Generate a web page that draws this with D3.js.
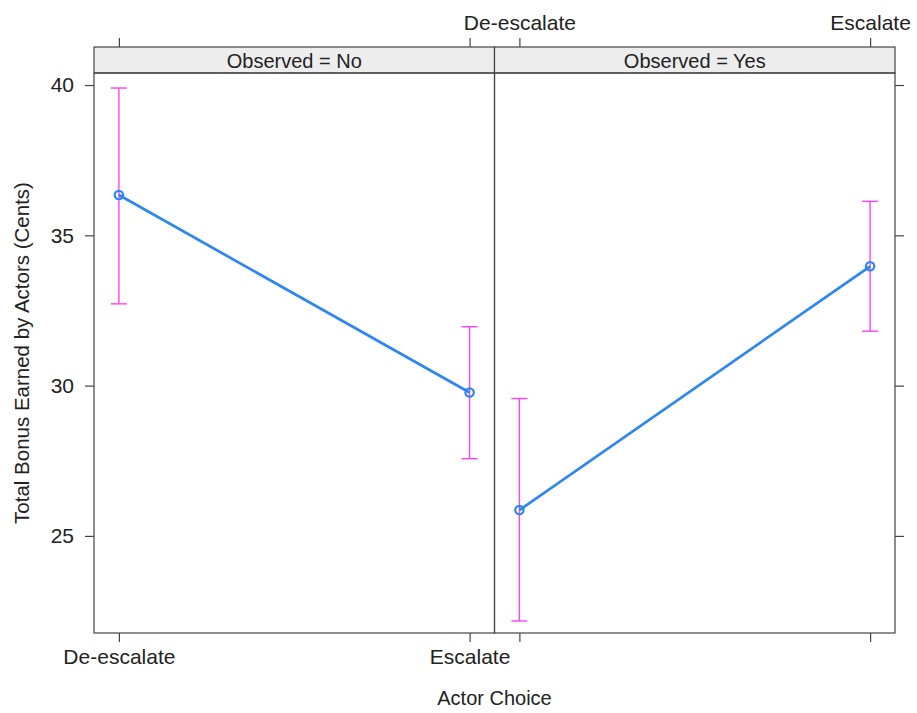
<!DOCTYPE html>
<html lang="en">
<head>
<meta charset="UTF-8">
<title>Bonus by actor choice</title>
<script src="https://d3js.org/d3.v7.min.js"></script>
<style>
  body { margin: 0; background: #fff; }
  svg text { font-family: "Liberation Sans", Arial, sans-serif; fill: #222; }
</style>
</head>
<body>
<svg width="917" height="713"></svg>
<script>
// data
const choices = ["De-escalate", "Escalate"];
const panels = ["Observed = No", "Observed = Yes"];
const meanNo = [36.34, 29.77];
const lowerNo = [32.72, 27.57];
const upperNo = [39.9, 31.96];
const meanYes = [25.86, 33.97];
const lowerYes = [22.17, 31.81];
const upperYes = [29.57, 36.13];
const yTicks = [25, 30, 35, 40];

(function () {
  const series = [
    { name: panels[0], mean: meanNo, lo: lowerNo, hi: upperNo },
    { name: panels[1], mean: meanYes, lo: lowerYes, hi: upperYes }
  ];

  const svg = d3.select("svg");
  const plotLeft = 94, panelW = 400.5, plotTop = 73, plotBottom = 633, stripH = 26;
  const blue = "#2d87f0", magenta = "#ff40ff", axisCol = "#444";
  const fs = 21;

  const y = d3.scaleLinear().domain([21.77, 40.4]).range([plotBottom, plotTop]);

  series.forEach((s, p) => {
    const x0 = plotLeft + p * panelW;
    const x = d3.scalePoint().domain(choices).range([x0, x0 + panelW]).padding(0.071);
    const g = svg.append("g");

    // strip
    g.append("rect")
      .attr("x", x0).attr("y", plotTop - stripH)
      .attr("width", panelW).attr("height", stripH)
      .attr("fill", "#ededed").attr("stroke", axisCol).attr("stroke-width", 1.2);
    g.append("text")
      .attr("x", x0 + panelW / 2).attr("y", plotTop - 5.5)
      .attr("text-anchor", "middle").attr("font-size", fs - 1)
      .text(s.name);

    // error bars
    choices.forEach((c, i) => {
      g.append("line")
        .attr("x1", x(c)).attr("x2", x(c))
        .attr("y1", y(s.lo[i])).attr("y2", y(s.hi[i]))
        .attr("stroke", magenta).attr("stroke-width", 1.4);
      [s.lo[i], s.hi[i]].forEach(v => {
        g.append("line")
          .attr("x1", x(c) - 8).attr("x2", x(c) + 8)
          .attr("y1", y(v)).attr("y2", y(v))
          .attr("stroke", magenta).attr("stroke-width", 1.4);
      });
    });

    // mean line + points
    g.append("path")
      .datum(choices.map((c, i) => [x(c), y(s.mean[i])]))
      .attr("d", d3.line())
      .attr("fill", "none").attr("stroke", blue).attr("stroke-width", 2.7);
    g.selectAll("circle").data(choices).enter().append("circle")
      .attr("cx", c => x(c)).attr("cy", (c, i) => y(s.mean[i]))
      .attr("r", 4.2).attr("fill", "none")
      .attr("stroke", blue).attr("stroke-width", 2.2);

    // bottom axis (labels on left panel), top axis (labels on right panel)
    const bAxis = d3.axisBottom(x).tickSize(9).tickPadding(7);
    const tAxis = d3.axisTop(x).tickSize(9).tickPadding(8);
    if (p !== 0) bAxis.tickFormat(() => "");
    if (p !== 1) tAxis.tickFormat(() => "");
    const ba = g.append("g").attr("transform", `translate(0,${plotBottom})`).call(bAxis);
    const ta = g.append("g").attr("transform", `translate(0,${plotTop - stripH})`).call(tAxis);
    [ba, ta].forEach(a => {
      a.select(".domain").remove();
      a.selectAll(".tick line").attr("stroke", axisCol).attr("stroke-width", 1.2);
      a.selectAll("text").attr("font-size", fs).attr("fill", "#222")
        .attr("font-family", "Liberation Sans, Arial, sans-serif");
    });

    // y axis: labels left on panel 1, ticks right on panel 2
    const yAxis = p === 0
      ? d3.axisLeft(y).tickValues(yTicks).tickSize(9).tickPadding(11)
      : d3.axisRight(y).tickValues(yTicks).tickSize(9).tickFormat(() => "");
    const ya = g.append("g")
      .attr("transform", `translate(${p === 0 ? x0 : x0 + panelW},0)`)
      .call(yAxis);
    ya.select(".domain").remove();
    ya.selectAll(".tick line").attr("stroke", axisCol).attr("stroke-width", 1.2);
    ya.selectAll("text").attr("font-size", fs).attr("fill", "#222")
      .attr("font-family", "Liberation Sans, Arial, sans-serif");

    // panel box
    g.append("rect")
      .attr("x", x0).attr("y", plotTop)
      .attr("width", panelW).attr("height", plotBottom - plotTop)
      .attr("fill", "none").attr("stroke", axisCol).attr("stroke-width", 1.2);
  });

  svg.append("text")
    .attr("x", plotLeft + panelW).attr("y", 705)
    .attr("text-anchor", "middle").attr("font-size", fs - 1)
    .text("Actor Choice");

  svg.append("text")
    .attr("transform", `translate(29,${(plotTop + plotBottom) / 2}) rotate(-90)`)
    .attr("text-anchor", "middle").attr("font-size", fs - 0.5)
    .text("Total Bonus Earned by Actors (Cents)");
})();
</script>
</body>
</html>
